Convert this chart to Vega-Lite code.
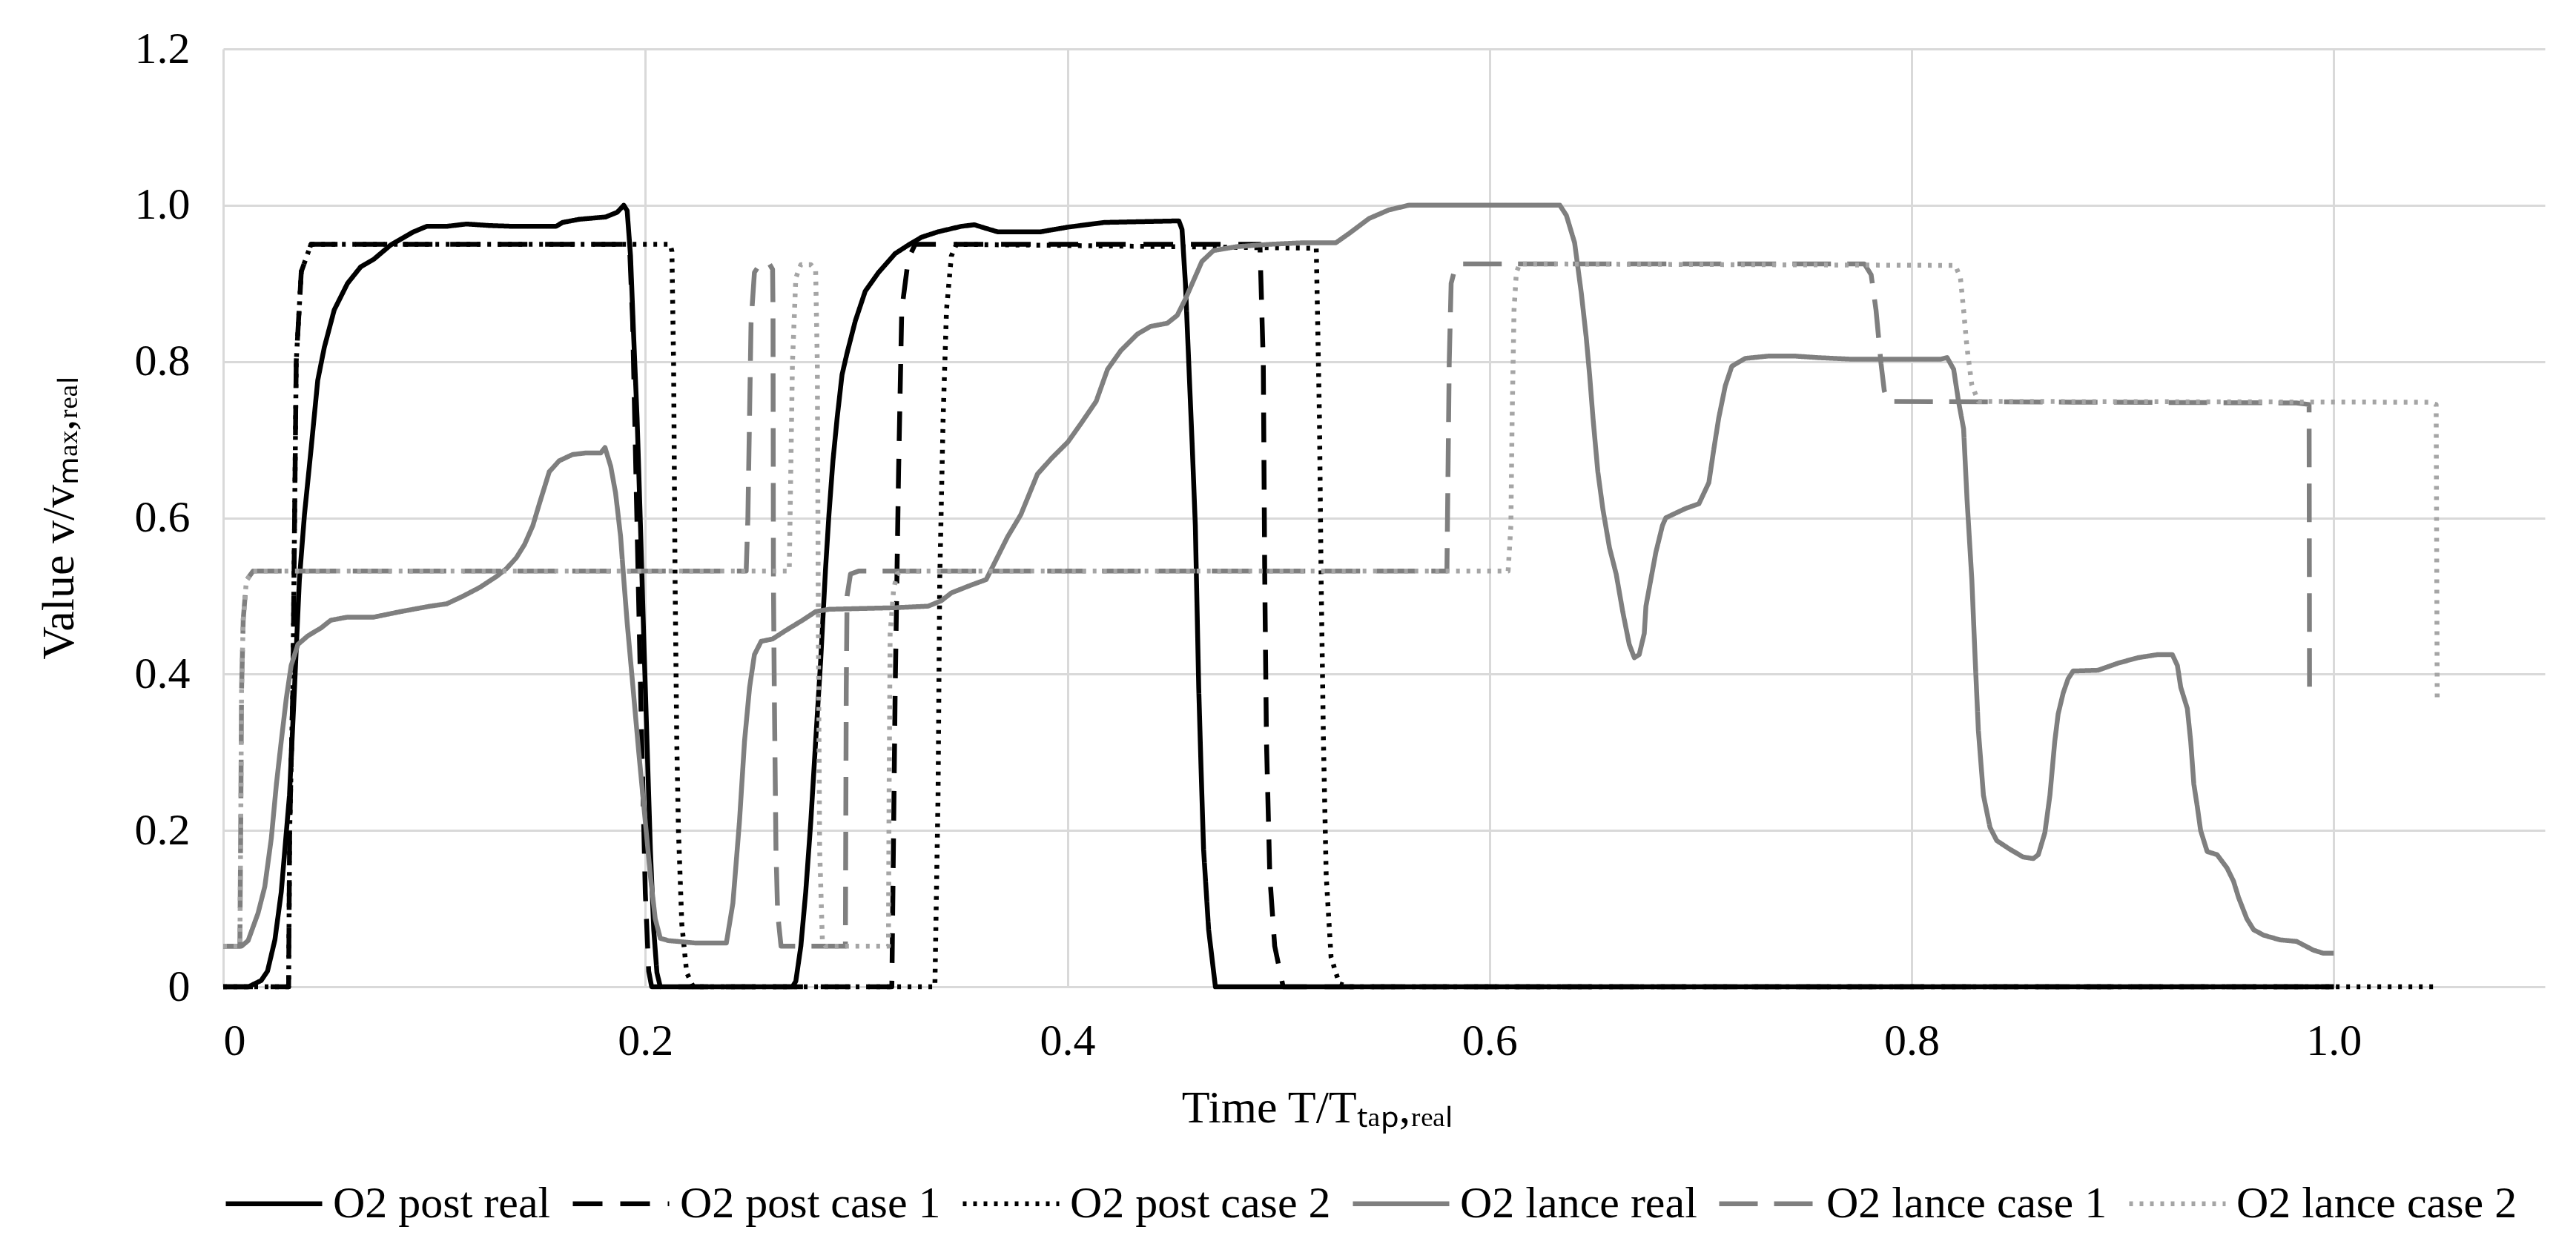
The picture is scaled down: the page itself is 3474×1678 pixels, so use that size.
{
  "$schema": "https://vega.github.io/schema/vega-lite/v6.json",
  "width": 3131,
  "height": 1265,
  "autosize": "none",
  "padding": {"left": 301, "top": 66, "right": 42, "bottom": 347},
  "background": "white",
  "config": {
    "font": "Liberation Serif",
    "view": {"stroke": null},
    "axis": {
      "grid": true,
      "gridColor": "#d9d9d9",
      "gridWidth": 3,
      "domain": false,
      "ticks": false,
      "labelFont": "Liberation Serif",
      "labelFontSize": 60,
      "labelColor": "#000000",
      "titleFont": "Liberation Serif",
      "titleFontSize": 62,
      "titleFontWeight": "normal",
      "titleColor": "#000000"
    },
    "legend": {
      "labelFont": "Liberation Serif",
      "labelFontSize": 60,
      "labelColor": "#000000"
    }
  },
  "data": {
    "values": [
      {"s": "O2 post real", "t": 0, "v": 0},
      {"s": "O2 post real", "t": 0.012, "v": 0},
      {"s": "O2 post real", "t": 0.018, "v": 0.008},
      {"s": "O2 post real", "t": 0.021, "v": 0.02},
      {"s": "O2 post real", "t": 0.0245, "v": 0.06},
      {"s": "O2 post real", "t": 0.0275, "v": 0.121},
      {"s": "O2 post real", "t": 0.0314, "v": 0.245},
      {"s": "O2 post real", "t": 0.0338, "v": 0.383},
      {"s": "O2 post real", "t": 0.0361, "v": 0.521},
      {"s": "O2 post real", "t": 0.0385, "v": 0.604},
      {"s": "O2 post real", "t": 0.0416, "v": 0.687},
      {"s": "O2 post real", "t": 0.0448, "v": 0.776},
      {"s": "O2 post real", "t": 0.0479, "v": 0.818},
      {"s": "O2 post real", "t": 0.0526, "v": 0.866},
      {"s": "O2 post real", "t": 0.0589, "v": 0.9},
      {"s": "O2 post real", "t": 0.0651, "v": 0.921},
      {"s": "O2 post real", "t": 0.0714, "v": 0.931},
      {"s": "O2 post real", "t": 0.0793, "v": 0.949},
      {"s": "O2 post real", "t": 0.0902, "v": 0.966},
      {"s": "O2 post real", "t": 0.0965, "v": 0.973},
      {"s": "O2 post real", "t": 0.1059, "v": 0.973},
      {"s": "O2 post real", "t": 0.1153, "v": 0.976},
      {"s": "O2 post real", "t": 0.1263, "v": 0.974},
      {"s": "O2 post real", "t": 0.1373, "v": 0.973},
      {"s": "O2 post real", "t": 0.1577, "v": 0.973},
      {"s": "O2 post real", "t": 0.1608, "v": 0.978},
      {"s": "O2 post real", "t": 0.1687, "v": 0.982},
      {"s": "O2 post real", "t": 0.1812, "v": 0.985},
      {"s": "O2 post real", "t": 0.1867, "v": 0.991},
      {"s": "O2 post real", "t": 0.1898, "v": 1.0},
      {"s": "O2 post real", "t": 0.1914, "v": 0.993},
      {"s": "O2 post real", "t": 0.193, "v": 0.935},
      {"s": "O2 post real", "t": 0.1945, "v": 0.831},
      {"s": "O2 post real", "t": 0.1961, "v": 0.728},
      {"s": "O2 post real", "t": 0.1977, "v": 0.59},
      {"s": "O2 post real", "t": 0.1992, "v": 0.452},
      {"s": "O2 post real", "t": 0.2008, "v": 0.314},
      {"s": "O2 post real", "t": 0.2024, "v": 0.176},
      {"s": "O2 post real", "t": 0.204, "v": 0.073},
      {"s": "O2 post real", "t": 0.2055, "v": 0.018},
      {"s": "O2 post real", "t": 0.2071, "v": 0},
      {"s": "O2 post real", "t": 0.2697, "v": 0},
      {"s": "O2 post real", "t": 0.2713, "v": 0.007},
      {"s": "O2 post real", "t": 0.2737, "v": 0.052},
      {"s": "O2 post real", "t": 0.276, "v": 0.121},
      {"s": "O2 post real", "t": 0.2784, "v": 0.211},
      {"s": "O2 post real", "t": 0.2807, "v": 0.314},
      {"s": "O2 post real", "t": 0.2831, "v": 0.418},
      {"s": "O2 post real", "t": 0.2854, "v": 0.535},
      {"s": "O2 post real", "t": 0.287, "v": 0.604},
      {"s": "O2 post real", "t": 0.2889, "v": 0.673},
      {"s": "O2 post real", "t": 0.2909, "v": 0.728},
      {"s": "O2 post real", "t": 0.2932, "v": 0.783},
      {"s": "O2 post real", "t": 0.2956, "v": 0.811},
      {"s": "O2 post real", "t": 0.2995, "v": 0.852},
      {"s": "O2 post real", "t": 0.3042, "v": 0.89},
      {"s": "O2 post real", "t": 0.3105, "v": 0.914},
      {"s": "O2 post real", "t": 0.3183, "v": 0.938},
      {"s": "O2 post real", "t": 0.3246, "v": 0.949},
      {"s": "O2 post real", "t": 0.3308, "v": 0.959},
      {"s": "O2 post real", "t": 0.3387, "v": 0.966},
      {"s": "O2 post real", "t": 0.3497, "v": 0.973},
      {"s": "O2 post real", "t": 0.3559, "v": 0.975},
      {"s": "O2 post real", "t": 0.3607, "v": 0.971},
      {"s": "O2 post real", "t": 0.3669, "v": 0.966},
      {"s": "O2 post real", "t": 0.3763, "v": 0.966},
      {"s": "O2 post real", "t": 0.3873, "v": 0.966},
      {"s": "O2 post real", "t": 0.4002, "v": 0.972},
      {"s": "O2 post real", "t": 0.4175, "v": 0.978},
      {"s": "O2 post real", "t": 0.4528, "v": 0.98},
      {"s": "O2 post real", "t": 0.4543, "v": 0.969},
      {"s": "O2 post real", "t": 0.4559, "v": 0.9},
      {"s": "O2 post real", "t": 0.4575, "v": 0.797},
      {"s": "O2 post real", "t": 0.4591, "v": 0.694},
      {"s": "O2 post real", "t": 0.4606, "v": 0.59},
      {"s": "O2 post real", "t": 0.4614, "v": 0.487},
      {"s": "O2 post real", "t": 0.4622, "v": 0.383},
      {"s": "O2 post real", "t": 0.4633, "v": 0.28},
      {"s": "O2 post real", "t": 0.4645, "v": 0.176},
      {"s": "O2 post real", "t": 0.4669, "v": 0.073},
      {"s": "O2 post real", "t": 0.4701, "v": 0},
      {"s": "O2 post real", "t": 1.0, "v": 0},

      {"s": "O2 post case 1", "t": 0, "v": 0},
      {"s": "O2 post case 1", "t": 0.031, "v": 0},
      {"s": "O2 post case 1", "t": 0.0315, "v": 0.2},
      {"s": "O2 post case 1", "t": 0.033, "v": 0.38},
      {"s": "O2 post case 1", "t": 0.0346, "v": 0.8},
      {"s": "O2 post case 1", "t": 0.037, "v": 0.915},
      {"s": "O2 post case 1", "t": 0.0416, "v": 0.95},
      {"s": "O2 post case 1", "t": 0.1925, "v": 0.95},
      {"s": "O2 post case 1", "t": 0.194, "v": 0.85},
      {"s": "O2 post case 1", "t": 0.196, "v": 0.6},
      {"s": "O2 post case 1", "t": 0.198, "v": 0.35},
      {"s": "O2 post case 1", "t": 0.2, "v": 0.12},
      {"s": "O2 post case 1", "t": 0.2016, "v": 0.02},
      {"s": "O2 post case 1", "t": 0.203, "v": 0},
      {"s": "O2 post case 1", "t": 0.3168, "v": 0},
      {"s": "O2 post case 1", "t": 0.3184, "v": 0.383},
      {"s": "O2 post case 1", "t": 0.32, "v": 0.66},
      {"s": "O2 post case 1", "t": 0.3215, "v": 0.866},
      {"s": "O2 post case 1", "t": 0.3246, "v": 0.931},
      {"s": "O2 post case 1", "t": 0.3278, "v": 0.95},
      {"s": "O2 post case 1", "t": 0.4912, "v": 0.95},
      {"s": "O2 post case 1", "t": 0.4928, "v": 0.797},
      {"s": "O2 post case 1", "t": 0.4935, "v": 0.521},
      {"s": "O2 post case 1", "t": 0.4943, "v": 0.314},
      {"s": "O2 post case 1", "t": 0.4959, "v": 0.141},
      {"s": "O2 post case 1", "t": 0.4982, "v": 0.052},
      {"s": "O2 post case 1", "t": 0.5022, "v": 0},
      {"s": "O2 post case 1", "t": 1.0, "v": 0},

      {"s": "O2 post case 2", "t": 0, "v": 0},
      {"s": "O2 post case 2", "t": 0.031, "v": 0},
      {"s": "O2 post case 2", "t": 0.0315, "v": 0.2},
      {"s": "O2 post case 2", "t": 0.033, "v": 0.38},
      {"s": "O2 post case 2", "t": 0.0346, "v": 0.8},
      {"s": "O2 post case 2", "t": 0.037, "v": 0.915},
      {"s": "O2 post case 2", "t": 0.0416, "v": 0.95},
      {"s": "O2 post case 2", "t": 0.2118, "v": 0.95},
      {"s": "O2 post case 2", "t": 0.2126, "v": 0.941},
      {"s": "O2 post case 2", "t": 0.2134, "v": 0.797},
      {"s": "O2 post case 2", "t": 0.2141, "v": 0.521},
      {"s": "O2 post case 2", "t": 0.2149, "v": 0.314},
      {"s": "O2 post case 2", "t": 0.2157, "v": 0.2},
      {"s": "O2 post case 2", "t": 0.2173, "v": 0.08},
      {"s": "O2 post case 2", "t": 0.2196, "v": 0.018},
      {"s": "O2 post case 2", "t": 0.2227, "v": 0},
      {"s": "O2 post case 2", "t": 0.3372, "v": 0},
      {"s": "O2 post case 2", "t": 0.3387, "v": 0.245},
      {"s": "O2 post case 2", "t": 0.3395, "v": 0.521},
      {"s": "O2 post case 2", "t": 0.3411, "v": 0.728},
      {"s": "O2 post case 2", "t": 0.3427, "v": 0.866},
      {"s": "O2 post case 2", "t": 0.345, "v": 0.935},
      {"s": "O2 post case 2", "t": 0.3474, "v": 0.95},
      {"s": "O2 post case 2", "t": 0.5179, "v": 0.945},
      {"s": "O2 post case 2", "t": 0.5194, "v": 0.728},
      {"s": "O2 post case 2", "t": 0.5202, "v": 0.521},
      {"s": "O2 post case 2", "t": 0.5213, "v": 0.314},
      {"s": "O2 post case 2", "t": 0.5226, "v": 0.142},
      {"s": "O2 post case 2", "t": 0.5249, "v": 0.038},
      {"s": "O2 post case 2", "t": 0.5288, "v": 0.004},
      {"s": "O2 post case 2", "t": 0.5335, "v": 0},
      {"s": "O2 post case 2", "t": 1.05, "v": 0},

      {"s": "O2 lance real", "t": 0, "v": 0.052},
      {"s": "O2 lance real", "t": 0.0087, "v": 0.052},
      {"s": "O2 lance real", "t": 0.0118, "v": 0.059},
      {"s": "O2 lance real", "t": 0.0165, "v": 0.094},
      {"s": "O2 lance real", "t": 0.0197, "v": 0.128},
      {"s": "O2 lance real", "t": 0.0228, "v": 0.19},
      {"s": "O2 lance real", "t": 0.0252, "v": 0.259},
      {"s": "O2 lance real", "t": 0.0275, "v": 0.314},
      {"s": "O2 lance real", "t": 0.0299, "v": 0.369},
      {"s": "O2 lance real", "t": 0.0322, "v": 0.411},
      {"s": "O2 lance real", "t": 0.0354, "v": 0.438},
      {"s": "O2 lance real", "t": 0.0401, "v": 0.449},
      {"s": "O2 lance real", "t": 0.0463, "v": 0.459},
      {"s": "O2 lance real", "t": 0.051, "v": 0.469},
      {"s": "O2 lance real", "t": 0.0589, "v": 0.473},
      {"s": "O2 lance real", "t": 0.0714, "v": 0.473},
      {"s": "O2 lance real", "t": 0.084, "v": 0.48},
      {"s": "O2 lance real", "t": 0.0981, "v": 0.487},
      {"s": "O2 lance real", "t": 0.1059, "v": 0.49},
      {"s": "O2 lance real", "t": 0.1138, "v": 0.5},
      {"s": "O2 lance real", "t": 0.1216, "v": 0.511},
      {"s": "O2 lance real", "t": 0.1295, "v": 0.525},
      {"s": "O2 lance real", "t": 0.1342, "v": 0.535},
      {"s": "O2 lance real", "t": 0.1389, "v": 0.549},
      {"s": "O2 lance real", "t": 0.1428, "v": 0.566},
      {"s": "O2 lance real", "t": 0.1467, "v": 0.59},
      {"s": "O2 lance real", "t": 0.1498, "v": 0.618},
      {"s": "O2 lance real", "t": 0.1545, "v": 0.659},
      {"s": "O2 lance real", "t": 0.1592, "v": 0.673},
      {"s": "O2 lance real", "t": 0.1655, "v": 0.681},
      {"s": "O2 lance real", "t": 0.1718, "v": 0.683},
      {"s": "O2 lance real", "t": 0.1789, "v": 0.683},
      {"s": "O2 lance real", "t": 0.1809, "v": 0.69},
      {"s": "O2 lance real", "t": 0.1836, "v": 0.666},
      {"s": "O2 lance real", "t": 0.1859, "v": 0.632},
      {"s": "O2 lance real", "t": 0.1883, "v": 0.576},
      {"s": "O2 lance real", "t": 0.1898, "v": 0.521},
      {"s": "O2 lance real", "t": 0.1914, "v": 0.466},
      {"s": "O2 lance real", "t": 0.1937, "v": 0.397},
      {"s": "O2 lance real", "t": 0.1969, "v": 0.3},
      {"s": "O2 lance real", "t": 0.2, "v": 0.211},
      {"s": "O2 lance real", "t": 0.2024, "v": 0.142},
      {"s": "O2 lance real", "t": 0.2047, "v": 0.087},
      {"s": "O2 lance real", "t": 0.2071, "v": 0.062},
      {"s": "O2 lance real", "t": 0.211, "v": 0.059},
      {"s": "O2 lance real", "t": 0.2236, "v": 0.056},
      {"s": "O2 lance real", "t": 0.2384, "v": 0.056},
      {"s": "O2 lance real", "t": 0.2415, "v": 0.107},
      {"s": "O2 lance real", "t": 0.2446, "v": 0.211},
      {"s": "O2 lance real", "t": 0.247, "v": 0.314},
      {"s": "O2 lance real", "t": 0.2494, "v": 0.383},
      {"s": "O2 lance real", "t": 0.2517, "v": 0.425},
      {"s": "O2 lance real", "t": 0.2549, "v": 0.442},
      {"s": "O2 lance real", "t": 0.2603, "v": 0.445},
      {"s": "O2 lance real", "t": 0.2666, "v": 0.456},
      {"s": "O2 lance real", "t": 0.2745, "v": 0.469},
      {"s": "O2 lance real", "t": 0.2807, "v": 0.48},
      {"s": "O2 lance real", "t": 0.287, "v": 0.483},
      {"s": "O2 lance real", "t": 0.3027, "v": 0.484},
      {"s": "O2 lance real", "t": 0.3183, "v": 0.485},
      {"s": "O2 lance real", "t": 0.334, "v": 0.487},
      {"s": "O2 lance real", "t": 0.3403, "v": 0.494},
      {"s": "O2 lance real", "t": 0.345, "v": 0.504},
      {"s": "O2 lance real", "t": 0.3544, "v": 0.514},
      {"s": "O2 lance real", "t": 0.3615, "v": 0.521},
      {"s": "O2 lance real", "t": 0.3654, "v": 0.542},
      {"s": "O2 lance real", "t": 0.3717, "v": 0.576},
      {"s": "O2 lance real", "t": 0.3779, "v": 0.604},
      {"s": "O2 lance real", "t": 0.3858, "v": 0.656},
      {"s": "O2 lance real", "t": 0.3924, "v": 0.676},
      {"s": "O2 lance real", "t": 0.4002, "v": 0.697},
      {"s": "O2 lance real", "t": 0.4065, "v": 0.721},
      {"s": "O2 lance real", "t": 0.4136, "v": 0.749},
      {"s": "O2 lance real", "t": 0.419, "v": 0.79},
      {"s": "O2 lance real", "t": 0.4253, "v": 0.814},
      {"s": "O2 lance real", "t": 0.4331, "v": 0.835},
      {"s": "O2 lance real", "t": 0.4394, "v": 0.845},
      {"s": "O2 lance real", "t": 0.4473, "v": 0.849},
      {"s": "O2 lance real", "t": 0.452, "v": 0.859},
      {"s": "O2 lance real", "t": 0.4559, "v": 0.88},
      {"s": "O2 lance real", "t": 0.4598, "v": 0.904},
      {"s": "O2 lance real", "t": 0.4637, "v": 0.928},
      {"s": "O2 lance real", "t": 0.4692, "v": 0.942},
      {"s": "O2 lance real", "t": 0.4802, "v": 0.947},
      {"s": "O2 lance real", "t": 0.4958, "v": 0.95},
      {"s": "O2 lance real", "t": 0.5116, "v": 0.952},
      {"s": "O2 lance real", "t": 0.5272, "v": 0.952},
      {"s": "O2 lance real", "t": 0.5335, "v": 0.964},
      {"s": "O2 lance real", "t": 0.5429, "v": 0.983},
      {"s": "O2 lance real", "t": 0.5523, "v": 0.994},
      {"s": "O2 lance real", "t": 0.5617, "v": 1.0},
      {"s": "O2 lance real", "t": 0.6333, "v": 1.0},
      {"s": "O2 lance real", "t": 0.6364, "v": 0.987},
      {"s": "O2 lance real", "t": 0.6403, "v": 0.952},
      {"s": "O2 lance real", "t": 0.6435, "v": 0.887},
      {"s": "O2 lance real", "t": 0.6458, "v": 0.831},
      {"s": "O2 lance real", "t": 0.6474, "v": 0.783},
      {"s": "O2 lance real", "t": 0.649, "v": 0.728},
      {"s": "O2 lance real", "t": 0.6513, "v": 0.659},
      {"s": "O2 lance real", "t": 0.6537, "v": 0.611},
      {"s": "O2 lance real", "t": 0.6568, "v": 0.562},
      {"s": "O2 lance real", "t": 0.66, "v": 0.528},
      {"s": "O2 lance real", "t": 0.6631, "v": 0.48},
      {"s": "O2 lance real", "t": 0.6662, "v": 0.438},
      {"s": "O2 lance real", "t": 0.6686, "v": 0.421},
      {"s": "O2 lance real", "t": 0.6709, "v": 0.425},
      {"s": "O2 lance real", "t": 0.6733, "v": 0.452},
      {"s": "O2 lance real", "t": 0.6741, "v": 0.487},
      {"s": "O2 lance real", "t": 0.6764, "v": 0.521},
      {"s": "O2 lance real", "t": 0.6788, "v": 0.556},
      {"s": "O2 lance real", "t": 0.6819, "v": 0.59},
      {"s": "O2 lance real", "t": 0.6835, "v": 0.6},
      {"s": "O2 lance real", "t": 0.6866, "v": 0.604},
      {"s": "O2 lance real", "t": 0.6929, "v": 0.612},
      {"s": "O2 lance real", "t": 0.6992, "v": 0.618},
      {"s": "O2 lance real", "t": 0.7039, "v": 0.645},
      {"s": "O2 lance real", "t": 0.7062, "v": 0.687},
      {"s": "O2 lance real", "t": 0.7086, "v": 0.728},
      {"s": "O2 lance real", "t": 0.7117, "v": 0.769},
      {"s": "O2 lance real", "t": 0.7148, "v": 0.794},
      {"s": "O2 lance real", "t": 0.7211, "v": 0.804},
      {"s": "O2 lance real", "t": 0.7321, "v": 0.807},
      {"s": "O2 lance real", "t": 0.7447, "v": 0.807},
      {"s": "O2 lance real", "t": 0.7556, "v": 0.805},
      {"s": "O2 lance real", "t": 0.7713, "v": 0.803},
      {"s": "O2 lance real", "t": 0.8011, "v": 0.803},
      {"s": "O2 lance real", "t": 0.8136, "v": 0.803},
      {"s": "O2 lance real", "t": 0.8168, "v": 0.805},
      {"s": "O2 lance real", "t": 0.8199, "v": 0.79},
      {"s": "O2 lance real", "t": 0.8222, "v": 0.749},
      {"s": "O2 lance real", "t": 0.8246, "v": 0.714},
      {"s": "O2 lance real", "t": 0.8262, "v": 0.625},
      {"s": "O2 lance real", "t": 0.8285, "v": 0.521},
      {"s": "O2 lance real", "t": 0.8301, "v": 0.418},
      {"s": "O2 lance real", "t": 0.8316, "v": 0.328},
      {"s": "O2 lance real", "t": 0.834, "v": 0.245},
      {"s": "O2 lance real", "t": 0.8371, "v": 0.204},
      {"s": "O2 lance real", "t": 0.8403, "v": 0.187},
      {"s": "O2 lance real", "t": 0.8465, "v": 0.176},
      {"s": "O2 lance real", "t": 0.8528, "v": 0.166},
      {"s": "O2 lance real", "t": 0.8576, "v": 0.164},
      {"s": "O2 lance real", "t": 0.86, "v": 0.169},
      {"s": "O2 lance real", "t": 0.8631, "v": 0.197},
      {"s": "O2 lance real", "t": 0.8655, "v": 0.245},
      {"s": "O2 lance real", "t": 0.8678, "v": 0.314},
      {"s": "O2 lance real", "t": 0.8694, "v": 0.349},
      {"s": "O2 lance real", "t": 0.8718, "v": 0.376},
      {"s": "O2 lance real", "t": 0.8741, "v": 0.394},
      {"s": "O2 lance real", "t": 0.8765, "v": 0.404},
      {"s": "O2 lance real", "t": 0.8883, "v": 0.405},
      {"s": "O2 lance real", "t": 0.8977, "v": 0.414},
      {"s": "O2 lance real", "t": 0.9071, "v": 0.421},
      {"s": "O2 lance real", "t": 0.9165, "v": 0.425},
      {"s": "O2 lance real", "t": 0.9235, "v": 0.425},
      {"s": "O2 lance real", "t": 0.9259, "v": 0.411},
      {"s": "O2 lance real", "t": 0.9275, "v": 0.383},
      {"s": "O2 lance real", "t": 0.9306, "v": 0.356},
      {"s": "O2 lance real", "t": 0.9322, "v": 0.314},
      {"s": "O2 lance real", "t": 0.9337, "v": 0.259},
      {"s": "O2 lance real", "t": 0.9353, "v": 0.231},
      {"s": "O2 lance real", "t": 0.9369, "v": 0.2},
      {"s": "O2 lance real", "t": 0.94, "v": 0.173},
      {"s": "O2 lance real", "t": 0.9447, "v": 0.169},
      {"s": "O2 lance real", "t": 0.9494, "v": 0.152},
      {"s": "O2 lance real", "t": 0.9525, "v": 0.135},
      {"s": "O2 lance real", "t": 0.9549, "v": 0.114},
      {"s": "O2 lance real", "t": 0.9588, "v": 0.087},
      {"s": "O2 lance real", "t": 0.962, "v": 0.073},
      {"s": "O2 lance real", "t": 0.9667, "v": 0.066},
      {"s": "O2 lance real", "t": 0.9745, "v": 0.06},
      {"s": "O2 lance real", "t": 0.9824, "v": 0.058},
      {"s": "O2 lance real", "t": 0.9902, "v": 0.047},
      {"s": "O2 lance real", "t": 0.9949, "v": 0.043},
      {"s": "O2 lance real", "t": 1.0, "v": 0.043},

      {"s": "O2 lance case 1", "t": 0, "v": 0.052},
      {"s": "O2 lance case 1", "t": 0.0079, "v": 0.052},
      {"s": "O2 lance case 1", "t": 0.0083, "v": 0.2},
      {"s": "O2 lance case 1", "t": 0.0087, "v": 0.38},
      {"s": "O2 lance case 1", "t": 0.0095, "v": 0.47},
      {"s": "O2 lance case 1", "t": 0.011, "v": 0.52},
      {"s": "O2 lance case 1", "t": 0.0142, "v": 0.532},
      {"s": "O2 lance case 1", "t": 0.2478, "v": 0.532},
      {"s": "O2 lance case 1", "t": 0.2486, "v": 0.6},
      {"s": "O2 lance case 1", "t": 0.2501, "v": 0.85},
      {"s": "O2 lance case 1", "t": 0.2517, "v": 0.914},
      {"s": "O2 lance case 1", "t": 0.2549, "v": 0.927},
      {"s": "O2 lance case 1", "t": 0.2588, "v": 0.925},
      {"s": "O2 lance case 1", "t": 0.2603, "v": 0.918},
      {"s": "O2 lance case 1", "t": 0.2605, "v": 0.866},
      {"s": "O2 lance case 1", "t": 0.2607, "v": 0.521},
      {"s": "O2 lance case 1", "t": 0.2611, "v": 0.383},
      {"s": "O2 lance case 1", "t": 0.2619, "v": 0.176},
      {"s": "O2 lance case 1", "t": 0.2627, "v": 0.094},
      {"s": "O2 lance case 1", "t": 0.2643, "v": 0.052},
      {"s": "O2 lance case 1", "t": 0.2948, "v": 0.052},
      {"s": "O2 lance case 1", "t": 0.2952, "v": 0.38},
      {"s": "O2 lance case 1", "t": 0.2956, "v": 0.5},
      {"s": "O2 lance case 1", "t": 0.2972, "v": 0.528},
      {"s": "O2 lance case 1", "t": 0.3011, "v": 0.532},
      {"s": "O2 lance case 1", "t": 0.5798, "v": 0.532},
      {"s": "O2 lance case 1", "t": 0.5809, "v": 0.8},
      {"s": "O2 lance case 1", "t": 0.5818, "v": 0.9},
      {"s": "O2 lance case 1", "t": 0.5837, "v": 0.92},
      {"s": "O2 lance case 1", "t": 0.5853, "v": 0.925},
      {"s": "O2 lance case 1", "t": 0.7776, "v": 0.925},
      {"s": "O2 lance case 1", "t": 0.7808, "v": 0.911},
      {"s": "O2 lance case 1", "t": 0.7831, "v": 0.866},
      {"s": "O2 lance case 1", "t": 0.7855, "v": 0.797},
      {"s": "O2 lance case 1", "t": 0.787, "v": 0.763},
      {"s": "O2 lance case 1", "t": 0.7886, "v": 0.749},
      {"s": "O2 lance case 1", "t": 0.9823, "v": 0.747},
      {"s": "O2 lance case 1", "t": 0.9883, "v": 0.745},
      {"s": "O2 lance case 1", "t": 0.9885, "v": 0.38},

      {"s": "O2 lance case 2", "t": 0, "v": 0.052},
      {"s": "O2 lance case 2", "t": 0.0079, "v": 0.052},
      {"s": "O2 lance case 2", "t": 0.0083, "v": 0.2},
      {"s": "O2 lance case 2", "t": 0.0087, "v": 0.38},
      {"s": "O2 lance case 2", "t": 0.0095, "v": 0.47},
      {"s": "O2 lance case 2", "t": 0.011, "v": 0.52},
      {"s": "O2 lance case 2", "t": 0.0142, "v": 0.532},
      {"s": "O2 lance case 2", "t": 0.2682, "v": 0.532},
      {"s": "O2 lance case 2", "t": 0.2697, "v": 0.797},
      {"s": "O2 lance case 2", "t": 0.2713, "v": 0.907},
      {"s": "O2 lance case 2", "t": 0.2737, "v": 0.924},
      {"s": "O2 lance case 2", "t": 0.2784, "v": 0.924},
      {"s": "O2 lance case 2", "t": 0.2807, "v": 0.917},
      {"s": "O2 lance case 2", "t": 0.2815, "v": 0.797},
      {"s": "O2 lance case 2", "t": 0.282, "v": 0.452},
      {"s": "O2 lance case 2", "t": 0.2826, "v": 0.176},
      {"s": "O2 lance case 2", "t": 0.2839, "v": 0.059},
      {"s": "O2 lance case 2", "t": 0.2854, "v": 0.052},
      {"s": "O2 lance case 2", "t": 0.3152, "v": 0.052},
      {"s": "O2 lance case 2", "t": 0.3155, "v": 0.245},
      {"s": "O2 lance case 2", "t": 0.316, "v": 0.452},
      {"s": "O2 lance case 2", "t": 0.3176, "v": 0.507},
      {"s": "O2 lance case 2", "t": 0.3192, "v": 0.528},
      {"s": "O2 lance case 2", "t": 0.322, "v": 0.532},
      {"s": "O2 lance case 2", "t": 0.6088, "v": 0.532},
      {"s": "O2 lance case 2", "t": 0.6101, "v": 0.59},
      {"s": "O2 lance case 2", "t": 0.6107, "v": 0.728},
      {"s": "O2 lance case 2", "t": 0.6116, "v": 0.866},
      {"s": "O2 lance case 2", "t": 0.6127, "v": 0.914},
      {"s": "O2 lance case 2", "t": 0.6143, "v": 0.925},
      {"s": "O2 lance case 2", "t": 0.8207, "v": 0.923},
      {"s": "O2 lance case 2", "t": 0.8231, "v": 0.907},
      {"s": "O2 lance case 2", "t": 0.8246, "v": 0.866},
      {"s": "O2 lance case 2", "t": 0.8262, "v": 0.818},
      {"s": "O2 lance case 2", "t": 0.8285, "v": 0.77},
      {"s": "O2 lance case 2", "t": 0.8316, "v": 0.749},
      {"s": "O2 lance case 2", "t": 1.045, "v": 0.748},
      {"s": "O2 lance case 2", "t": 1.0485, "v": 0.745},
      {"s": "O2 lance case 2", "t": 1.049, "v": 0.369}
    ]
  },
  "mark": {"type": "line", "strokeWidth": 6.5, "strokeJoin": "round"},
  "encoding": {
    "x": {
      "field": "t",
      "type": "quantitative",
      "scale": {"domain": [0, 1.1], "nice": false, "zero": false},
      "axis": {
        "values": [0, 0.2, 0.4, 0.6, 0.8, 1.0],
        "labelExpr": "datum.value === 0 ? '0' : format(datum.value, '.1f')",
        "labelPadding": 44,
        "title": "Time T/Tₜₐₚ,ᵣₑₐₗ",
        "titlePadding": 30,
        "titleX": 1475
      }
    },
    "y": {
      "field": "v",
      "type": "quantitative",
      "scale": {"domain": [0, 1.2], "nice": false},
      "axis": {
        "values": [0, 0.2, 0.4, 0.6, 0.8, 1.0, 1.2],
        "labelExpr": "datum.value === 0 ? '0' : format(datum.value, '.1f')",
        "labelPadding": 45,
        "title": "Value v/vₘₐₓ,ᵣₑₐₗ",
        "titlePadding": 70
      }
    },
    "color": {
      "field": "s",
      "type": "nominal",
      "scale": {
        "domain": ["O2 post real", "O2 post case 1", "O2 post case 2", "O2 lance real", "O2 lance case 1", "O2 lance case 2"],
        "range": ["#000000", "#000000", "#000000", "#7f7f7f", "#7f7f7f", "#a5a5a5"]
      },
      "legend": {
        "title": null,
        "orient": "bottom",
        "direction": "horizontal",
        "symbolType": "stroke",
        "symbolSize": 16900,
        "symbolStrokeWidth": 6.5,
        "labelOffset": 11,
        "columnPadding": 16,
        "labelLimit": 1000,
        "offset": 30
      }
    },
    "strokeDash": {
      "field": "s",
      "type": "nominal",
      "scale": {
        "domain": ["O2 post real", "O2 post case 1", "O2 post case 2", "O2 lance real", "O2 lance case 1", "O2 lance case 2"],
        "range": [[1, 0], [40, 24], [5, 9], [1, 0], [52, 22], [5, 9]]
      },
      "legend": {
        "title": null,
        "orient": "bottom",
        "direction": "horizontal",
        "symbolType": "stroke",
        "symbolSize": 16900,
        "symbolStrokeWidth": 6.5,
        "labelOffset": 11,
        "columnPadding": 16,
        "labelLimit": 1000,
        "offset": 30
      }
    }
  }
}
